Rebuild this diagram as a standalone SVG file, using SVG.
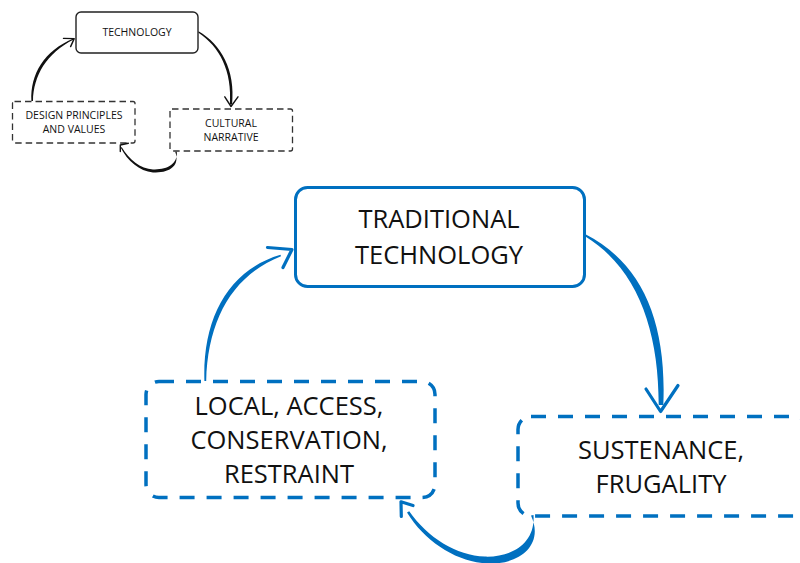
<svg xmlns="http://www.w3.org/2000/svg" width="800" height="563" viewBox="0 0 800 563">
  <style>
    .txt { font-family: "Open Sans", "Noto Sans", "Liberation Sans", sans-serif; fill: #111; text-anchor: middle; }
    .sm { font-size: 10.5px; }
    .lg { font-size: 25.5px; }
    .sbox { fill: none; stroke: #222; stroke-width: 1.4; }
    .sdash { fill: none; stroke: #333; stroke-width: 1.3; stroke-dasharray: 6.5 4; }
    .bbox { fill: none; stroke: #0070c0; stroke-width: 3; }
    .bdash { fill: none; stroke: #0070c0; stroke-width: 3.5; stroke-dasharray: 15 12; }
    .kfill { fill: #111; stroke: none; }
    .khead { fill: none; stroke: #111; stroke-width: 1.4; stroke-linecap: round; stroke-linejoin: round; }
    .bfill { fill: #0070c0; stroke: none; }
    .bhead { fill: none; stroke: #0070c0; stroke-width: 3.2; stroke-linecap: round; stroke-linejoin: round; }
  </style>

  <rect width="800" height="563" fill="#ffffff"/>

  <!-- small cycle -->
  <g id="technology">
    <rect class="sbox" x="76" y="12" width="122" height="41" rx="5"/>
    <text class="txt sm" x="137" y="35.7">TECHNOLOGY</text>
  </g>
  <g id="design-principles">
    <rect class="sdash" x="12.5" y="101.5" width="122.5" height="41.5" rx="2"/>
    <text class="txt sm" x="74" y="118.7">DESIGN PRINCIPLES</text>
    <text class="txt sm" x="74" y="132.7">AND VALUES</text>
  </g>
  <g id="cultural-narrative">
    <rect class="sdash" x="170" y="109" width="122.5" height="42" rx="2"/>
    <text class="txt sm" x="231" y="126.5">CULTURAL</text>
    <text class="txt sm" x="231" y="140.5">NARRATIVE</text>
  </g>

  <!-- large cycle -->
  <g id="traditional-technology">
    <rect class="bbox" x="295.5" y="187.5" width="289" height="99" rx="12"/>
    <text class="txt lg" x="439" y="227.5">TRADITIONAL</text>
    <text class="txt lg" x="439" y="263.5">TECHNOLOGY</text>
  </g>
  <g id="local-access">
    <rect class="bdash" x="146" y="381.5" width="289" height="116" rx="13"/>
    <text class="txt lg" x="289" y="414.5">LOCAL, ACCESS,</text>
    <text class="txt lg" x="289" y="448.5">CONSERVATION,</text>
    <text class="txt lg" x="289" y="482.5">RESTRAINT</text>
  </g>
  <g id="sustenance-frugality">
    <rect class="bdash" x="518" y="416.5" width="289" height="99.5" rx="13"/>
    <text class="txt lg" x="661" y="458.5">SUSTENANCE,</text>
    <text class="txt lg" x="661" y="492.5">FRUGALITY</text>
  </g>

  <!-- connectors: tapered brush strokes with open heads -->
  <g id="connectors">
    <!-- small: technology -> cultural narrative -->
    <path class="kfill" d="M198.5,31.3 C221,44 235.6,70 232.1,104.5 L229.9,104.5 C232.4,71 219.5,46.5 198.5,32.7 Z"/>
    <path class="khead" d="M224.8,96.8 L231,106.5 L238,96.8"/>
    <!-- small: cultural narrative -> design principles -->
    <path class="kfill" d="M175.2,151.8 C180.6,166 169,173.4 153,172.4 C139.5,171.4 127.5,161 120.6,147.6 L121.8,147.2 C129,159.5 140.5,168.8 153,169.4 C167,170 177.8,164 176.8,151.8 Z"/>
    <path class="khead" d="M128.3,143.3 L120.3,145 L120.3,151.5"/>
    <!-- small: design principles -> technology -->
    <path class="kfill" d="M31.4,101 C30.2,74 44.2,51 73.2,38.6 L73.8,39.6 C46.6,53 33.4,76 33,101 Z"/>
    <path class="khead" d="M63.5,38.4 L74.2,38.6 L70.6,46.6"/>

    <!-- large: traditional technology -> sustenance -->
    <path class="bfill" d="M585,234 C641,262.5 667,320 663.3,405 L658.7,405 C658.8,330 637.5,268.5 585,236.2 Z"/>
    <path class="bhead" d="M646,389 L660.6,411.5 L678,385.5"/>
    <!-- large: sustenance -> local access -->
    <path class="bfill" d="M531,515.5 C545,546 518,566 485,563.3 C455,560.8 424.5,541 407,512.4 L409.2,511.2 C427.5,537.5 456.5,555.6 485,556.6 C512.5,557.4 535.5,543 533.5,515 Z"/>
    <path class="bhead" d="M413,505.5 L401,501.8 L401.3,516.5"/>
    <!-- large: local access -> traditional technology -->
    <path class="bfill" d="M204.4,381 C202.4,318 228.5,270 280.5,254.8 L281,256.2 C232.5,275.5 207.6,320 206.2,381 Z"/>
    <path class="bhead" d="M267.5,247.5 L292,249.5 L283,267.5"/>
  </g>
</svg>
